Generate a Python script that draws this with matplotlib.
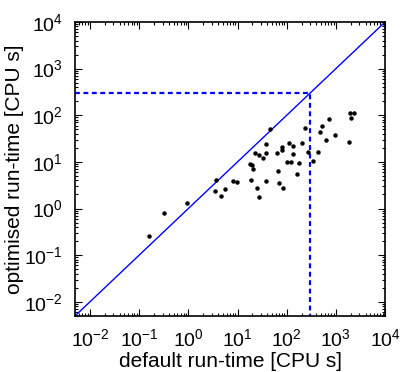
import matplotlib

matplotlib.use("Agg")

import matplotlib.pyplot as plt
from matplotlib.ticker import LogLocator, NullFormatter

# default vs optimised run-time, CPU seconds
default_time = [
    0.16, 0.32, 0.92, 3.7, 3.4, 4.6, 5.5, 7.9, 9.7,
    18, 19.9, 21, 19.2, 25, 26.7, 22.5, 27.9, 33.2, 38.7, 38.2, 46, 38,
    63, 65, 71, 83, 80, 81, 100.6, 121, 110, 131, 135, 158, 181, 203,
    234, 269, 340, 442, 485, 533, 614, 719, 980, 1860, 1920, 2040, 2380,
]
optimised_time = [
    0.26, 0.8, 1.34, 4.0, 2.35, 1.83, 2.6, 3.9, 3.7,
    9.0, 8.5, 7.0, 4.0, 2.76, 1.75, 15.5, 14, 12.3, 15.3, 24.5, 51, 3.95,
    15.7, 6.3, 3.5, 2.8, 18, 20.8, 9.8, 9.8, 26, 21.6, 15, 5.4, 9.3, 25,
    52, 16.5, 10.3, 16.3, 43.7, 60, 29.4, 83, 37.7, 27, 111, 86, 113,
]
axis_limits = [0.005, 1e4]
cutoff = 300
major_ticks = [1e-2, 1e-1, 1e0, 1e1, 1e2, 1e3, 1e4]

plt.rcParams["font.family"] = ["Liberation Sans", "DejaVu Sans"]
plt.rcParams["mathtext.fontset"] = "custom"
plt.rcParams["mathtext.rm"] = "Liberation Sans"
plt.rcParams["mathtext.it"] = "Liberation Sans"

fig = plt.figure(figsize=(4.02, 3.72), dpi=100)
ax = fig.add_axes([0.187, 0.151, 0.771, 0.790])

ax.plot(axis_limits, axis_limits, color="#0000ff", linewidth=1.0)
ax.plot([axis_limits[0], cutoff, cutoff], [cutoff, cutoff, axis_limits[0]],
        color="#0000ff", linewidth=1.6, linestyle=(0, (2.2, 1.6)))
ax.plot(default_time, optimised_time, linestyle="none", marker="o",
        markersize=2.2, color="black")

ax.set_xscale("log")
ax.set_yscale("log")
ax.set_xlim(axis_limits)
ax.set_ylim(axis_limits)
ax.set_xticks(major_ticks)
ax.set_yticks(major_ticks)
ax.xaxis.set_minor_locator(LogLocator(base=10, subs=range(2, 10), numticks=20))
ax.yaxis.set_minor_locator(LogLocator(base=10, subs=range(2, 10), numticks=20))
ax.xaxis.set_minor_formatter(NullFormatter())
ax.yaxis.set_minor_formatter(NullFormatter())

ax.tick_params(which="both", direction="in", top=True, right=True, width=0.8)
ax.tick_params(which="major", length=5, labelsize=14)
ax.tick_params(axis="x", which="major", pad=9)
ax.tick_params(axis="y", which="major", pad=9)
ax.tick_params(which="minor", length=2.5)
for spine in ax.spines.values():
    spine.set_linewidth(1.2)

ax.set_xlabel("default run-time [CPU s]", fontsize=15, labelpad=1)
ax.set_ylabel("optimised run-time [CPU s]", fontsize=15, labelpad=0)

fig.savefig("out.png", dpi=100)
